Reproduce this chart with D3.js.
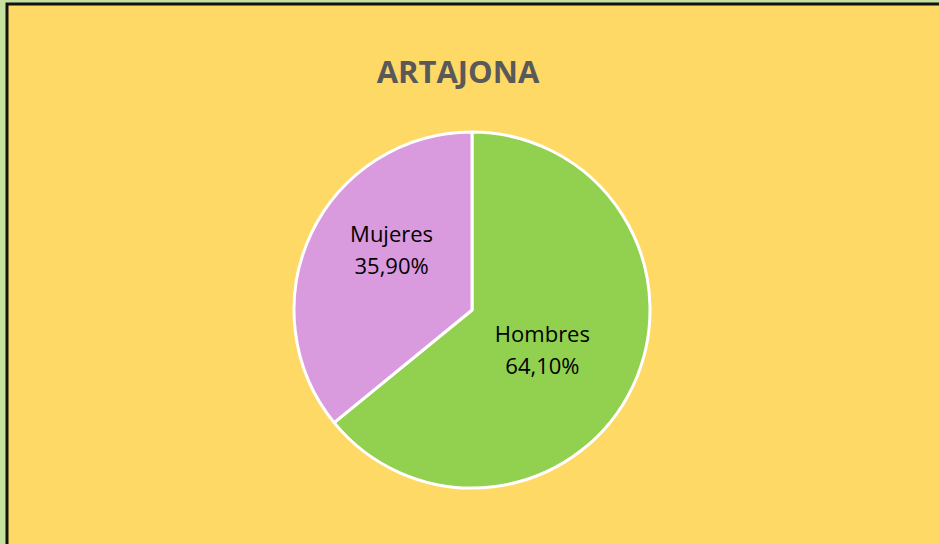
<!DOCTYPE html>
<html>
  <head>
    <meta charset="utf-8">
    <title>Artajona</title>
    <script src="https://d3js.org/d3.v7.min.js"></script>
    <style>
      html, body { margin: 0; padding: 0; background: #c6e0a0; overflow: hidden; }
      svg { display: block; }
    </style>
  </head>
  <body>
    <svg id="chart" width="939" height="544"></svg>
    <script>
      // data
      const title = "ARTAJONA";
      const categories = ["Hombres", "Mujeres"];
      const values = [64.1, 35.9];
      const colours = ["#92d050", "#d99ade"];

      const width = 939, height = 544;
      const svg = d3.select("#chart");

      // chart area with black frame
      svg.append("rect")
        .attr("x", 7)
        .attr("y", 4)
        .attr("width", width - 7 + 10)
        .attr("height", height)
        .attr("fill", "#ffd966")
        .attr("stroke", "#111")
        .attr("stroke-width", 3);

      svg.append("text")
        .attr("x", 458)
        .attr("y", 83)
        .attr("text-anchor", "middle")
        .attr("font-family", "'Open Sans', sans-serif")
        .attr("font-weight", "bold")
        .attr("font-size", 31)
        .attr("fill", "#595959")
        .text(title);

      const cx = 472, cy = 310, r = 178;
      const pie = d3.pie().sort(null).value(function(d) { return d; });
      const arc = d3.arc().innerRadius(0).outerRadius(r);
      const labelArc = d3.arc().innerRadius(r * 0.5).outerRadius(r * 0.5);
      const arcs = pie(values);
      // small nudges so labels sit where the spreadsheet put them
      const nudge = [[-10, 2], [0, -22]];

      const g = svg.append("g").attr("transform", "translate(" + cx + "," + cy + ")");
      g.selectAll("path")
        .data(arcs)
        .enter().append("path")
          .attr("d", arc)
          .attr("fill", function(d, i) { return colours[i]; })
          .attr("stroke", "#fff")
          .attr("stroke-width", 3)
          .attr("stroke-linejoin", "round");

      const fmt = function(v) { return v.toFixed(2).replace(".", ",") + "%"; };
      const labels = g.selectAll(".label")
        .data(arcs)
        .enter().append("text")
          .attr("class", "label")
          .attr("transform", function(d, i) {
            const c = labelArc.centroid(d);
            return "translate(" + (c[0] + nudge[i][0]) + "," + (c[1] + nudge[i][1]) + ")";
          })
          .attr("text-anchor", "middle")
          .attr("font-family", "'Open Sans', sans-serif")
          .attr("font-size", 22)
          .attr("fill", "#000");
      labels.append("tspan").attr("x", 0).attr("y", -8).text(function(d, i) { return categories[i]; });
      labels.append("tspan").attr("x", 0).attr("y", 24).text(function(d) { return fmt(d.data); });
    </script>
  </body>
</html>
